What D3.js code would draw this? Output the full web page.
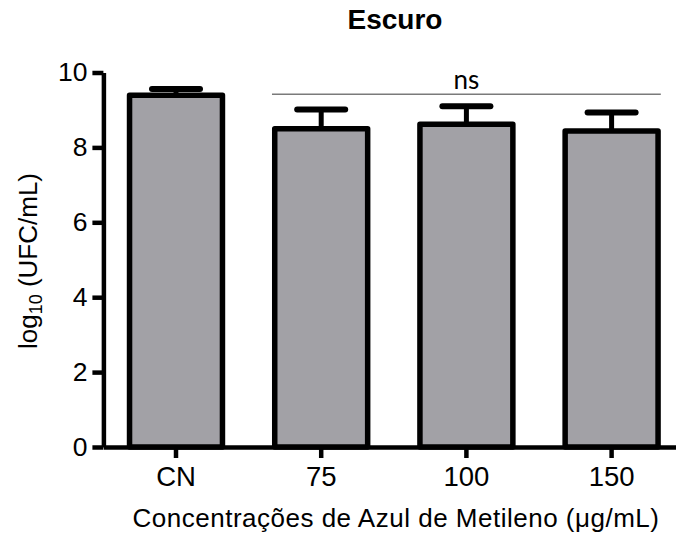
<!DOCTYPE html>
<html>
<head>
<meta charset="utf-8">
<script src="https://cdn.jsdelivr.net/npm/d3@7"></script>
<style>
  body { margin: 0; background: #fff; }
  svg { display: block; }
  text { font-family: "Liberation Sans", Arial, sans-serif; fill: #000; }
</style>
</head>
<body>
<div id="chart"></div>
<script>
// data
const categories = [`CN`, `75`, `100`, `150`];
const means = [9.39, 8.5, 8.62, 8.44];
const sds = [0.17, 0.51, 0.48, 0.49];
const yTicks = [0, 2, 4, 6, 8, 10];
const nsGroup = [`75`, `150`]; // bracket start / end
const nsLevel = 9.42;

const width = 676;
const height = 536;

const svg = d3
  .select(`#chart`)
  .append(`svg`)
  .attr(`width`, width)
  .attr(`height`, height);

const x = d3
  .scaleBand()
  .domain(categories)
  .range([103.4, 684.2])
  .paddingInner(0.36)
  .paddingOuter(0.18);

const y = d3.scaleLinear().domain([0, 10]).range([447, 72.5]);

const bw = x.bandwidth();
const capHalf = 24;

const data = categories.map((c, i) => ({ key: c, mean: means[i], sd: sds[i] }));

// error bars (upper only), drawn under the bars
const err = svg.append(`g`).attr(`stroke`, `#000`);
err
  .selectAll(`line.stem`)
  .data(data)
  .enter()
  .append(`line`)
  .attr(`class`, `stem`)
  .attr(`x1`, (d) => x(d.key) + bw / 2)
  .attr(`x2`, (d) => x(d.key) + bw / 2)
  .attr(`y1`, (d) => y(d.mean))
  .attr(`y2`, (d) => y(d.mean + d.sd))
  .attr(`stroke-width`, 5);
err
  .selectAll(`line.cap`)
  .data(data)
  .enter()
  .append(`line`)
  .attr(`class`, `cap`)
  .attr(`x1`, (d) => x(d.key) + bw / 2 - capHalf)
  .attr(`x2`, (d) => x(d.key) + bw / 2 + capHalf)
  .attr(`y1`, (d) => y(d.mean + d.sd))
  .attr(`y2`, (d) => y(d.mean + d.sd))
  .attr(`stroke-width`, 6)
  .attr(`stroke-linecap`, `round`);

// bars
svg
  .append(`g`)
  .selectAll(`rect`)
  .data(data)
  .enter()
  .append(`rect`)
  .attr(`x`, (d) => x(d.key))
  .attr(`y`, (d) => y(d.mean))
  .attr(`width`, bw)
  .attr(`height`, (d) => y(0) - y(d.mean))
  .attr(`fill`, `#a2a1a6`)
  .attr(`stroke`, `#000`)
  .attr(`stroke-width`, 5.5)
  .attr(`stroke-linejoin`, `round`);

// ns bracket
const nsX1 = x(nsGroup[0]) - 2.75;
const nsX2 = x(nsGroup[1]) + bw + 2.75;
svg
  .append(`line`)
  .attr(`x1`, nsX1)
  .attr(`x2`, nsX2)
  .attr(`y1`, y(nsLevel))
  .attr(`y2`, y(nsLevel))
  .attr(`stroke`, `#7a7a7a`)
  .attr(`stroke-width`, 1.6);
svg
  .append(`text`)
  .attr(`x`, (nsX1 + nsX2) / 2)
  .attr(`y`, y(nsLevel) - 5)
  .attr(`text-anchor`, `middle`)
  .style(`font-family`, `Lato, "Open Sans", sans-serif`)
  .style(`font-size`, `26px`)
  .text(`ns`);

// axes
const yAxis = svg
  .append(`g`)
  .attr(`transform`, `translate(103.4,0)`)
  .call(d3.axisLeft(y).tickValues(yTicks).tickSize(11).tickSizeOuter(0).tickPadding(5));

const xAxis = svg
  .append(`g`)
  .attr(`transform`, `translate(0,447)`)
  .call(d3.axisBottom(x).tickSize(11).tickSizeOuter(0).tickPadding(8.5));

[yAxis, xAxis].forEach((g) => {
  g.select(`.domain`).attr(`stroke-width`, 4.5);
  g.selectAll(`.tick line`).attr(`stroke-width`, 4.5);
  g.selectAll(`.tick text`)
    .style(`font-family`, `"Liberation Sans", Arial, sans-serif`)
    .style(`font-size`, `27.5px`);
});
yAxis.selectAll(`.tick text`).style(`font-size`, `26.5px`);

// title
svg
  .append(`text`)
  .attr(`x`, 395)
  .attr(`y`, 29)
  .attr(`text-anchor`, `middle`)
  .style(`font-weight`, `bold`)
  .style(`font-size`, `28px`)
  .text(`Escuro`);

// x axis title
svg
  .append(`text`)
  .attr(`x`, 396)
  .attr(`y`, 527)
  .attr(`text-anchor`, `middle`)
  .style(`font-size`, `26px`)
  .style(`letter-spacing`, `0.5px`)
  .text(`Concentrações de Azul de Metileno (μg/mL)`);

// y axis title
const yt = svg
  .append(`text`)
  .attr(`transform`, `translate(37,261) rotate(-90)`)
  .attr(`text-anchor`, `middle`)
  .style(`font-size`, `26px`);
yt.append(`tspan`).text(`log`);
yt.append(`tspan`).attr(`dy`, `0.3em`).style(`font-size`, `18px`).text(`10`);
yt.append(`tspan`).attr(`dy`, `-0.2em`).text(` (UFC/mL)`);
</script>
</body>
</html>
